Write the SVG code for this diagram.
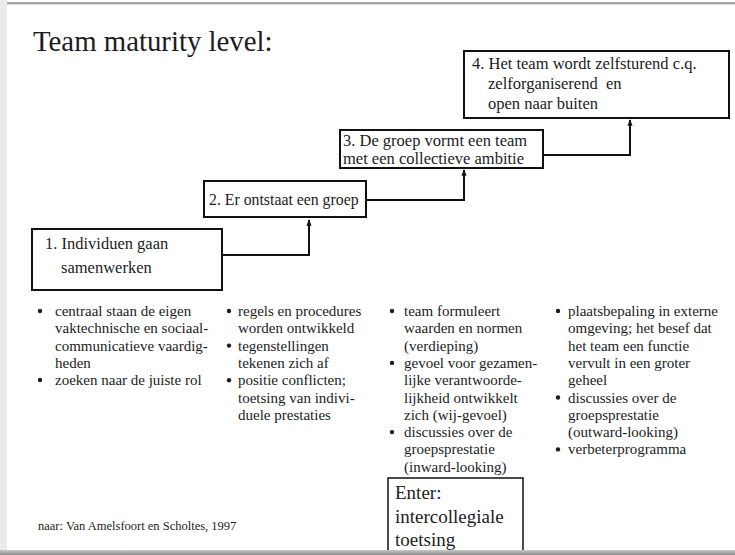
<svg xmlns="http://www.w3.org/2000/svg" width="735" height="555" viewBox="0 0 735 555">
  <defs>
    <marker id="arrow" viewBox="0 0 10 10" refX="9" refY="5" markerWidth="3.2" markerHeight="3.2" orient="auto" markerUnits="strokeWidth">
      <path d="M0,1 L10,5 L0,9 z" fill="#111"/>
    </marker>
    <linearGradient id="footband" x1="0" y1="0" x2="0" y2="1">
      <stop offset="0" stop-color="#c8c8c8"/>
      <stop offset="1" stop-color="#8c8c8c"/>
    </linearGradient>
  </defs>
  <style>
    text { fill: #1c1c22; }
    .title { font-size: 28.8px; }
    .box { font-size: 16.5px; }
    .box.short { font-size: 15.8px; }
    .list { font-size: 15px; }
    .enter { font-size: 19px; }
    .note { font-size: 12.5px; }
    .step { fill: #fff; stroke: #111; stroke-width: 2; }
    .link { fill: none; stroke: #111; stroke-width: 2; }
    .dot { fill: #1c1c22; }
  </style>

  <!-- page -->
  <rect x="0" y="0" width="735" height="555" fill="#fff"/>
  <rect x="0" y="0" width="7" height="555" fill="#ebebeb"/>
  <line x1="7" y1="3" x2="735" y2="3" stroke="#8a8a8a" stroke-width="1.5"/>
  <line x1="7" y1="4.5" x2="735" y2="4.5" stroke="#dcdcdc" stroke-width="1"/>

  <g font-family="'Liberation Serif', 'Times New Roman', serif">
  <text class="title" x="33" y="51">Team maturity level:</text>

  <!-- staircase connectors -->
  <g id="connectors">
    <polyline class="link" points="222,255 309,255 309,220" marker-end="url(#arrow)"/>
    <polyline class="link" points="366,200 464,200 464,170" marker-end="url(#arrow)"/>
    <polyline class="link" points="543,155 630,155 630,120" marker-end="url(#arrow)"/>
  </g>

  <g id="step1">
    <rect class="step" x="32" y="229" width="190" height="61"/>
    <text class="box" x="45" y="249">1. Individuen gaan</text>
    <text class="box" x="61" y="273">samenwerken</text>
  </g>

  <g id="step2">
    <rect class="step" x="204" y="181" width="162" height="36"/>
    <text class="box short" x="209" y="205">2. Er ontstaat een groep</text>
  </g>

  <g id="step3">
    <rect class="step" x="340" y="130" width="203" height="38"/>
    <text class="box" x="343" y="146">3. De groep vormt een team</text>
    <text class="box" x="343" y="164">met een collectieve ambitie</text>
  </g>

  <g id="step4">
    <rect class="step" x="464" y="51" width="265" height="67"/>
    <text class="box" x="472" y="69">4. Het team wordt zelfsturend c.q.</text>
    <text class="box" x="488" y="89" xml:space="preserve">zelforganiserend  en</text>
    <text class="box" x="488" y="109">open naar buiten</text>
  </g>

  <!-- column 1 -->
  <g id="list1" class="list">
    <circle class="dot" cx="40" cy="311" r="2.2"/>
    <circle class="dot" cx="40" cy="380" r="2.2"/>
    <text x="55" y="316">centraal staan de eigen</text>
    <text x="55" y="333.3">vaktechnische en sociaal-</text>
    <text x="55" y="350.6">communicatieve vaardig-</text>
    <text x="55" y="367.9">heden</text>
    <text x="55" y="385.2">zoeken naar de juiste rol</text>
  </g>

  <!-- column 2 -->
  <g id="list2" class="list">
    <circle class="dot" cx="229" cy="311" r="2.2"/>
    <circle class="dot" cx="229" cy="345.6" r="2.2"/>
    <circle class="dot" cx="229" cy="380.2" r="2.2"/>
    <text x="238" y="316">regels en procedures</text>
    <text x="238" y="333.3">worden ontwikkeld</text>
    <text x="238" y="350.6">tegenstellingen</text>
    <text x="238" y="367.9">tekenen zich af</text>
    <text x="238" y="385.2">positie conflicten;</text>
    <text x="238" y="402.5">toetsing van indivi-</text>
    <text x="238" y="419.8">duele prestaties</text>
  </g>

  <!-- column 3 -->
  <g id="list3" class="list">
    <circle class="dot" cx="392" cy="311" r="2.2"/>
    <circle class="dot" cx="392" cy="362.9" r="2.2"/>
    <circle class="dot" cx="392" cy="432.1" r="2.2"/>
    <text x="404" y="316">team formuleert</text>
    <text x="404" y="333.3">waarden en normen</text>
    <text x="404" y="350.6">(verdieping)</text>
    <text x="404" y="367.9">gevoel voor gezamen-</text>
    <text x="404" y="385.2">lijke verantwoorde-</text>
    <text x="404" y="402.5">lijkheid ontwikkelt</text>
    <text x="404" y="419.8">zich (wij-gevoel)</text>
    <text x="404" y="437.1">discussies over de</text>
    <text x="404" y="454.4">groepsprestatie</text>
    <text x="404" y="471.7">(inward-looking)</text>
  </g>

  <!-- column 4 -->
  <g id="list4" class="list">
    <circle class="dot" cx="558" cy="311" r="2.2"/>
    <circle class="dot" cx="558" cy="397.5" r="2.2"/>
    <circle class="dot" cx="558" cy="449.4" r="2.2"/>
    <text x="568" y="316">plaatsbepaling in externe</text>
    <text x="568" y="333.3">omgeving; het besef dat</text>
    <text x="568" y="350.6">het team een functie</text>
    <text x="568" y="367.9">vervult in een groter</text>
    <text x="568" y="385.2">geheel</text>
    <text x="568" y="402.5">discussies over de</text>
    <text x="568" y="419.8">groepsprestatie</text>
    <text x="568" y="437.1">(outward-looking)</text>
    <text x="568" y="454.4">verbeterprogramma</text>
  </g>

  <g id="enter">
    <rect x="388" y="478" width="135" height="80" fill="#fff" stroke="#111" stroke-width="1.5"/>
    <text class="enter" x="395" y="499">Enter:</text>
    <text class="enter" x="395" y="523">intercollegiale</text>
    <text class="enter" x="395" y="546">toetsing</text>
  </g>

  <text class="note" x="38" y="530">naar: Van Amelsfoort en Scholtes, 1997</text>
  </g>

  <!-- lower page edge -->
  <rect x="0" y="550" width="735" height="5" fill="url(#footband)"/>
</svg>
